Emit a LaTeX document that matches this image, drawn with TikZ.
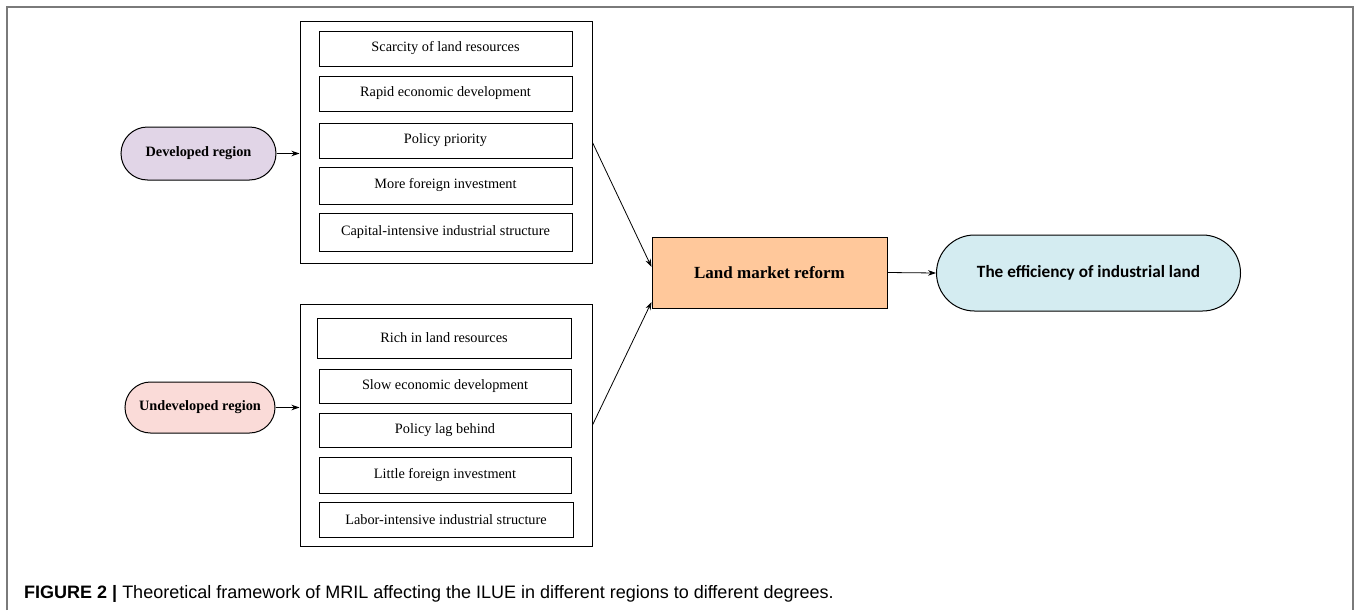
\documentclass[tikz,border=0pt]{standalone}
\usepackage{fontspec}
\setmainfont{Liberation Serif}
\newfontfamily\capfont{Liberation Sans}
\newfontfamily\calfont{Carlito}
\usetikzlibrary{arrows.meta}
\definecolor{framecol}{HTML}{7A7A7A}
\definecolor{devfill}{HTML}{E1D5E7}
\definecolor{undevfill}{HTML}{FADBD8}
\definecolor{lmrfill}{HTML}{FFC89B}
\definecolor{efffill}{HTML}{D4ECF1}
\begin{document}
\begin{tikzpicture}[x=1pt,y=-1pt,
  container/.style={draw, line width=1pt, minimum width=292pt, minimum height=241pt, inner sep=0pt},
  item/.style={draw, line width=0.9pt, minimum width=253pt, inner sep=0pt, font=\fontsize{14.3}{16}\selectfont},
  pill/.style={draw, line width=1pt, inner sep=0pt},
  conn/.style={line width=0.8pt, -{Stealth[length=8pt,width=5.5pt]}}
]
\useasboundingbox (0,0) rectangle (1356,610);
\draw[framecol, line width=2pt] (7,610) -- (7,7) -- (1353,7) -- (1353,610);

% containers
\node[container] (topc) at (446,142.5) {};
\node[container, minimum height=242pt] (botc) at (446,425) {};

% top items
\node[item, minimum height=35pt] (t1) at (445.5,48.5) {Scarcity of land resources};
\node[item, minimum height=35pt] (t2) at (445.5,93.5) {Rapid economic development};
\node[item, minimum height=35pt] (t3) at (445.5,140.5) {Policy priority};
\node[item, minimum height=37pt] (t4) at (445.5,185.5) {More foreign investment};
\node[item, minimum height=38pt] (t5) at (445.5,232) {Capital-intensive industrial structure};

% bottom items
\node[item, minimum width=254pt, minimum height=40pt] (b1) at (444,338) {Rich in land resources};
\node[item, minimum width=252pt, minimum height=34pt] (b2) at (445,386) {Slow economic development};
\node[item, minimum width=252pt, minimum height=34pt] (b3) at (445,430) {Policy lag behind};
\node[item, minimum width=252pt, minimum height=36pt] (b4) at (445,475) {Little foreign investment};
\node[item, minimum width=254pt, minimum height=35pt] (b5) at (446,519.5) {Labor-intensive industrial structure};

% region pills
\node[pill, fill=devfill, minimum width=155pt, minimum height=53pt, rounded corners=26.5pt,
  font=\fontsize{14.3}{16}\selectfont\bfseries] (dev) at (198.5,153.5) {Developed region};
\node[pill, fill=undevfill, minimum width=150pt, minimum height=51pt, rounded corners=25.5pt,
  font=\fontsize{14.3}{16}\selectfont\bfseries] (undev) at (200,407.5) {Undeveloped region};

% central nodes
\node[draw, line width=1pt, fill=lmrfill, minimum width=235pt, minimum height=71pt, inner sep=0pt,
  font=\fontsize{17}{20}\selectfont\bfseries] (lmr) at (769.5,272.5) {Land market reform};
\node[pill, fill=efffill, minimum width=304pt, minimum height=76pt, rounded corners=38pt,
  font=\fontsize{17.2}{20}\selectfont\calfont\bfseries] (eff) at (1088.5,273) {The efficiency of industrial land};

% connectors
\draw[conn] (dev.east) -- (dev.east -| topc.west);
\draw[conn] (undev.east) -- (undev.east -| botc.west);
\draw[conn] (topc.east) -- ([yshift=5.5pt]lmr.west);
\draw[conn] (botc.east) -- ([yshift=-29.5pt]lmr.west);
\draw[conn] (lmr.east) -- (eff.west);

% caption
\node[anchor=base west, inner sep=0pt, font=\fontsize{18}{20}\selectfont\capfont] (cap) at (24,598)
  {\textbf{FIGURE 2 |} Theoretical framework of MRIL affecting the ILUE in different regions to different degrees.};
\end{tikzpicture}
\end{document}
